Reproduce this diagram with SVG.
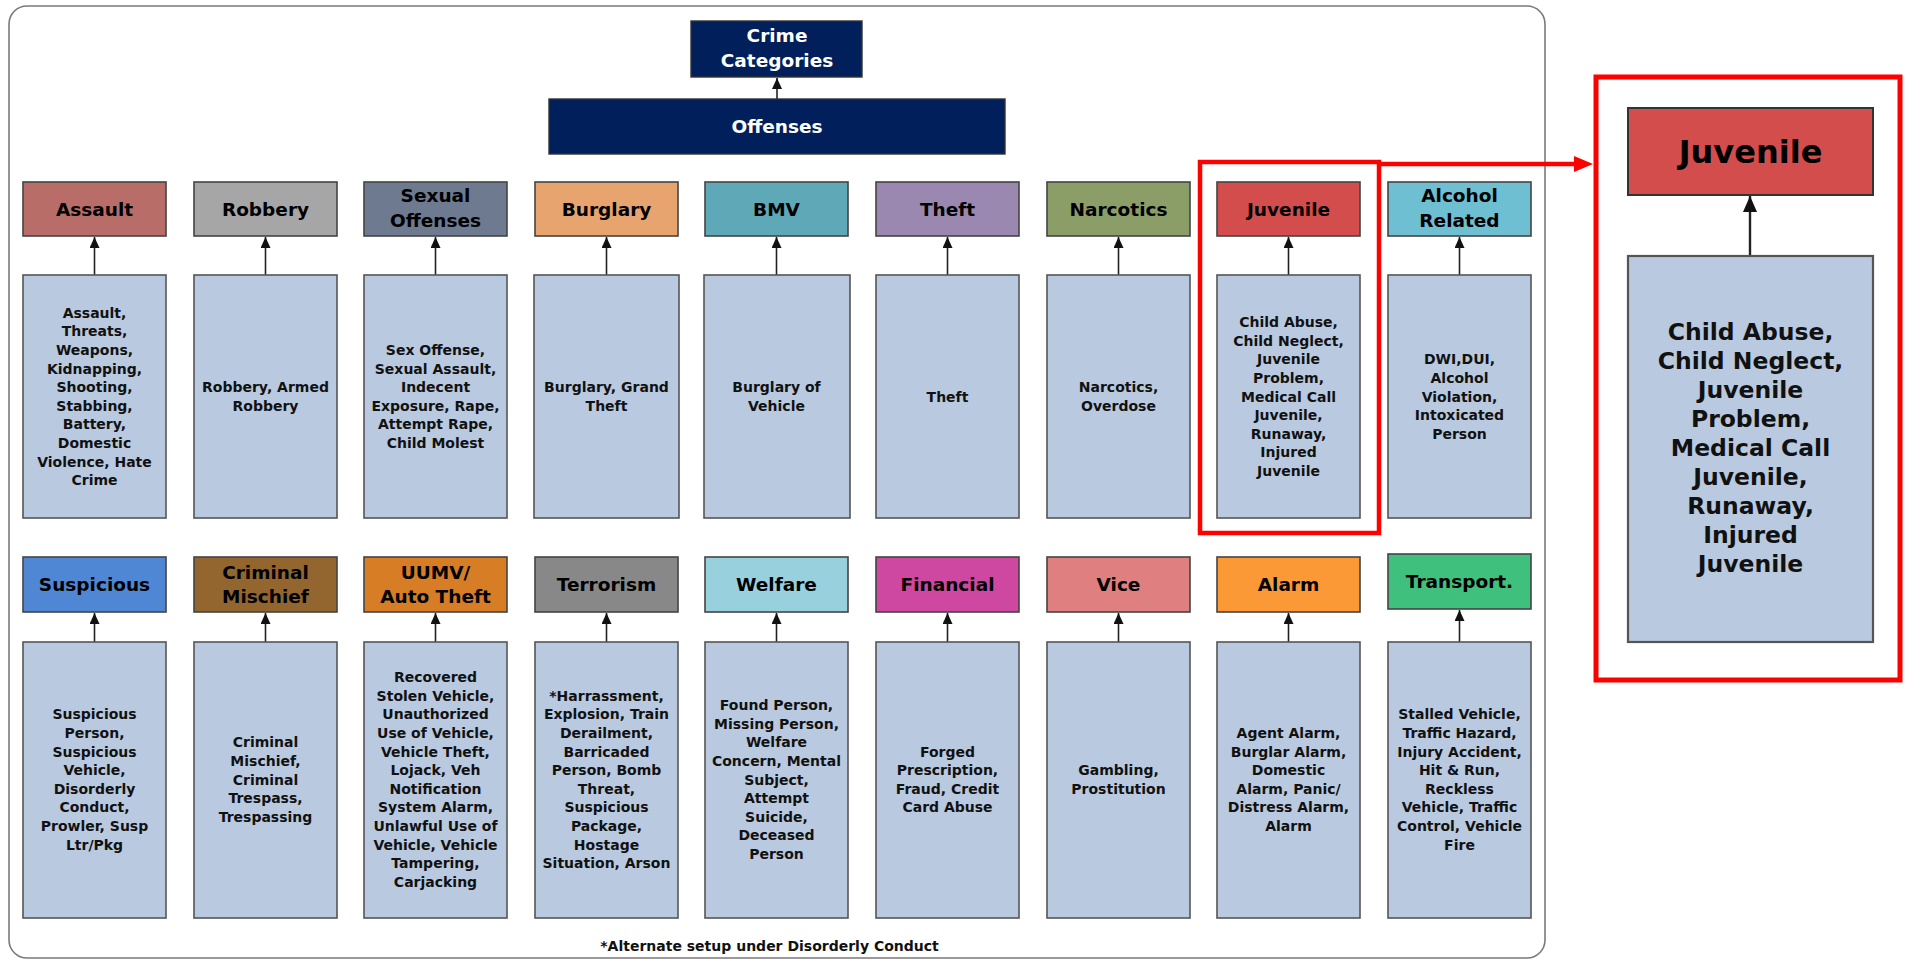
<svg xmlns="http://www.w3.org/2000/svg" width="1906" height="962" viewBox="0 0 1906 962">
<defs>
<marker id="ah" markerUnits="userSpaceOnUse" markerWidth="11" markerHeight="10" refX="11" refY="5" orient="auto"><path d="M0,0 L11,5 L0,10 z" fill="#111"/></marker>
<marker id="ahb" markerUnits="userSpaceOnUse" markerWidth="16" markerHeight="14" refX="16" refY="7" orient="auto"><path d="M0,0 L16,7 L0,14 z" fill="#111"/></marker>
</defs>
<style>
.hd{stroke:#444;stroke-width:1.6}
.dt{fill:#b9cae0;stroke:#555;stroke-width:1.6}
.nv{fill:#001f5b;stroke:#333;stroke-width:1.4}
.ht{font-family:"DejaVu Sans",sans-serif;font-weight:bold;font-size:18.5px;fill:#000;text-anchor:middle}
.wt{font-family:"DejaVu Sans",sans-serif;font-weight:bold;font-size:18.5px;fill:#fff;text-anchor:middle}
.tx{font-family:"DejaVu Sans",sans-serif;font-weight:bold;font-size:14px;fill:#111;text-anchor:middle}
.cn{stroke:#222;stroke-width:1.6;fill:none;marker-end:url(#ah)}
</style>
<rect x="9" y="6" width="1536" height="952" rx="18" fill="#fff" stroke="#7a7a7a" stroke-width="1.6"/>

<g id="connectors">
<line class="cn" x1="777" y1="99" x2="777" y2="78"/>
<line class="cn" x1="94.5" y1="275" x2="94.5" y2="237"/>
<line class="cn" x1="265.5" y1="275" x2="265.5" y2="237"/>
<line class="cn" x1="435.5" y1="275" x2="435.5" y2="237"/>
<line class="cn" x1="606.5" y1="275" x2="606.5" y2="237"/>
<line class="cn" x1="776.5" y1="275" x2="776.5" y2="237"/>
<line class="cn" x1="947.5" y1="275" x2="947.5" y2="237"/>
<line class="cn" x1="1118.5" y1="275" x2="1118.5" y2="237"/>
<line class="cn" x1="1288.5" y1="275" x2="1288.5" y2="237"/>
<line class="cn" x1="1459.5" y1="275" x2="1459.5" y2="237"/>
<line class="cn" x1="94.5" y1="642" x2="94.5" y2="613"/>
<line class="cn" x1="265.5" y1="642" x2="265.5" y2="613"/>
<line class="cn" x1="435.5" y1="642" x2="435.5" y2="613"/>
<line class="cn" x1="606.5" y1="642" x2="606.5" y2="613"/>
<line class="cn" x1="776.5" y1="642" x2="776.5" y2="613"/>
<line class="cn" x1="947.5" y1="642" x2="947.5" y2="613"/>
<line class="cn" x1="1118.5" y1="642" x2="1118.5" y2="613"/>
<line class="cn" x1="1288.5" y1="642" x2="1288.5" y2="613"/>
<line class="cn" x1="1459.5" y1="642" x2="1459.5" y2="610"/>
<line x1="1750" y1="256" x2="1750" y2="196" stroke="#222" stroke-width="2.4" marker-end="url(#ahb)"/>
</g>

<g id="crime-categories"><rect class="nv" x="691" y="21" width="171" height="56"/><text class="wt" x="777" y="41.5">Crime</text><text class="wt" x="777" y="66.5">Categories</text></g>
<g id="offenses"><rect class="nv" x="549" y="99" width="456" height="55"/><text class="wt" x="777" y="133">Offenses</text></g>

<!-- Row 1 headers -->
<g id="assault"><rect class="hd" x="23" y="182" width="143" height="54" fill="#b86d68"/><text class="ht" x="94.5" y="215.5">Assault</text></g>
<g id="robbery"><rect class="hd" x="194" y="182" width="143" height="54" fill="#a6a6a6"/><text class="ht" x="265.5" y="215.5">Robbery</text></g>
<g id="sexual-offenses"><rect class="hd" x="364" y="182" width="143" height="54" fill="#6e7a8f"/><text class="ht" x="435.5" y="202">Sexual</text><text class="ht" x="435.5" y="226.5">Offenses</text></g>
<g id="burglary"><rect class="hd" x="535" y="182" width="143" height="54" fill="#e8a46e"/><text class="ht" x="606.5" y="215.5">Burglary</text></g>
<g id="bmv"><rect class="hd" x="705" y="182" width="143" height="54" fill="#5fa8b8"/><text class="ht" x="776.5" y="215.5">BMV</text></g>
<g id="theft"><rect class="hd" x="876" y="182" width="143" height="54" fill="#9a88b0"/><text class="ht" x="947.5" y="215.5">Theft</text></g>
<g id="narcotics"><rect class="hd" x="1047" y="182" width="143" height="54" fill="#8c9e68"/><text class="ht" x="1118.5" y="215.5">Narcotics</text></g>
<g id="juvenile"><rect class="hd" x="1217" y="182" width="143" height="54" fill="#d44d4d"/><text class="ht" x="1288.5" y="215.5">Juvenile</text></g>
<g id="alcohol-related"><rect class="hd" x="1388" y="182" width="143" height="54" fill="#6dbfd1"/><text class="ht" x="1459.5" y="202">Alcohol</text><text class="ht" x="1459.5" y="226.5">Related</text></g>

<!-- Row 1 details -->
<g id="assault-detail"><rect class="dt" x="23" y="275" width="143" height="243"/><text class="tx" y="317.8"><tspan x="94.5">Assault,</tspan><tspan x="94.5" dy="18.6">Threats,</tspan><tspan x="94.5" dy="18.6">Weapons,</tspan><tspan x="94.5" dy="18.6">Kidnapping,</tspan><tspan x="94.5" dy="18.6">Shooting,</tspan><tspan x="94.5" dy="18.6">Stabbing,</tspan><tspan x="94.5" dy="18.6">Battery,</tspan><tspan x="94.5" dy="18.6">Domestic</tspan><tspan x="94.5" dy="18.6">Violence, Hate</tspan><tspan x="94.5" dy="18.6">Crime</tspan></text></g>
<g id="robbery-detail"><rect class="dt" x="194" y="275" width="143" height="243"/><text class="tx" y="392.2"><tspan x="265.5">Robbery, Armed</tspan><tspan x="265.5" dy="18.6">Robbery</tspan></text></g>
<g id="sexual-detail"><rect class="dt" x="364" y="275" width="143" height="243"/><text class="tx" y="355"><tspan x="435.5">Sex Offense,</tspan><tspan x="435.5" dy="18.6">Sexual Assault,</tspan><tspan x="435.5" dy="18.6">Indecent</tspan><tspan x="435.5" dy="18.6">Exposure, Rape,</tspan><tspan x="435.5" dy="18.6">Attempt Rape,</tspan><tspan x="435.5" dy="18.6">Child Molest</tspan></text></g>
<g id="burglary-detail"><rect class="dt" x="534" y="275" width="145" height="243"/><text class="tx" y="392.2"><tspan x="606.5">Burglary, Grand</tspan><tspan x="606.5" dy="18.6">Theft</tspan></text></g>
<g id="bmv-detail"><rect class="dt" x="704" y="275" width="146" height="243"/><text class="tx" y="392.2"><tspan x="776.5">Burglary of</tspan><tspan x="776.5" dy="18.6">Vehicle</tspan></text></g>
<g id="theft-detail"><rect class="dt" x="876" y="275" width="143" height="243"/><text class="tx" x="947.5" y="401.5">Theft</text></g>
<g id="narcotics-detail"><rect class="dt" x="1047" y="275" width="143" height="243"/><text class="tx" y="392.2"><tspan x="1118.5">Narcotics,</tspan><tspan x="1118.5" dy="18.6">Overdose</tspan></text></g>
<g id="juvenile-detail"><rect class="dt" x="1217" y="275" width="143" height="243"/><text class="tx" y="327.1"><tspan x="1288.5">Child Abuse,</tspan><tspan x="1288.5" dy="18.6">Child Neglect,</tspan><tspan x="1288.5" dy="18.6">Juvenile</tspan><tspan x="1288.5" dy="18.6">Problem,</tspan><tspan x="1288.5" dy="18.6">Medical Call</tspan><tspan x="1288.5" dy="18.6">Juvenile,</tspan><tspan x="1288.5" dy="18.6">Runaway,</tspan><tspan x="1288.5" dy="18.6">Injured</tspan><tspan x="1288.5" dy="18.6">Juvenile</tspan></text></g>
<g id="alcohol-detail"><rect class="dt" x="1388" y="275" width="143" height="243"/><text class="tx" y="364.3"><tspan x="1459.5">DWI,DUI,</tspan><tspan x="1459.5" dy="18.6">Alcohol</tspan><tspan x="1459.5" dy="18.6">Violation,</tspan><tspan x="1459.5" dy="18.6">Intoxicated</tspan><tspan x="1459.5" dy="18.6">Person</tspan></text></g>

<!-- Row 2 headers -->
<g id="suspicious"><rect class="hd" x="23" y="557" width="143" height="55" fill="#4f87d4"/><text class="ht" x="94.5" y="591">Suspicious</text></g>
<g id="criminal-mischief"><rect class="hd" x="194" y="557" width="143" height="55" fill="#93652f"/><text class="ht" x="265.5" y="578.5">Criminal</text><text class="ht" x="265.5" y="603">Mischief</text></g>
<g id="uumv"><rect class="hd" x="364" y="557" width="143" height="55" fill="#d67d26"/><text class="ht" x="435.5" y="578.5">UUMV/</text><text class="ht" x="435.5" y="603">Auto Theft</text></g>
<g id="terrorism"><rect class="hd" x="535" y="557" width="143" height="55" fill="#888888"/><text class="ht" x="606.5" y="591">Terrorism</text></g>
<g id="welfare"><rect class="hd" x="705" y="557" width="143" height="55" fill="#98d0de"/><text class="ht" x="776.5" y="591">Welfare</text></g>
<g id="financial"><rect class="hd" x="876" y="557" width="143" height="55" fill="#ce47a0"/><text class="ht" x="947.5" y="591">Financial</text></g>
<g id="vice"><rect class="hd" x="1047" y="557" width="143" height="55" fill="#df7f7f"/><text class="ht" x="1118.5" y="591">Vice</text></g>
<g id="alarm"><rect class="hd" x="1217" y="557" width="143" height="55" fill="#fb9937"/><text class="ht" x="1288.5" y="591">Alarm</text></g>
<g id="transport"><rect class="hd" x="1388" y="554" width="143" height="55" fill="#3fc07c"/><text class="ht" x="1459.5" y="588">Transport.</text></g>

<!-- Row 2 details -->
<g id="suspicious-detail"><rect class="dt" x="23" y="642" width="143" height="276"/><text class="tx" y="719.4"><tspan x="94.5">Suspicious</tspan><tspan x="94.5" dy="18.6">Person,</tspan><tspan x="94.5" dy="18.6">Suspicious</tspan><tspan x="94.5" dy="18.6">Vehicle,</tspan><tspan x="94.5" dy="18.6">Disorderly</tspan><tspan x="94.5" dy="18.6">Conduct,</tspan><tspan x="94.5" dy="18.6">Prowler, Susp</tspan><tspan x="94.5" dy="18.6">Ltr/Pkg</tspan></text></g>
<g id="criminal-detail"><rect class="dt" x="194" y="642" width="143" height="276"/><text class="tx" y="747.3"><tspan x="265.5">Criminal</tspan><tspan x="265.5" dy="18.6">Mischief,</tspan><tspan x="265.5" dy="18.6">Criminal</tspan><tspan x="265.5" dy="18.6">Trespass,</tspan><tspan x="265.5" dy="18.6">Trespassing</tspan></text></g>
<g id="uumv-detail"><rect class="dt" x="364" y="642" width="143" height="276"/><text class="tx" y="682.2"><tspan x="435.5">Recovered</tspan><tspan x="435.5" dy="18.6">Stolen Vehicle,</tspan><tspan x="435.5" dy="18.6">Unauthorized</tspan><tspan x="435.5" dy="18.6">Use of Vehicle,</tspan><tspan x="435.5" dy="18.6">Vehicle Theft,</tspan><tspan x="435.5" dy="18.6">Lojack, Veh</tspan><tspan x="435.5" dy="18.6">Notification</tspan><tspan x="435.5" dy="18.6">System Alarm,</tspan><tspan x="435.5" dy="18.6">Unlawful Use of</tspan><tspan x="435.5" dy="18.6">Vehicle, Vehicle</tspan><tspan x="435.5" dy="18.6">Tampering,</tspan><tspan x="435.5" dy="18.6">Carjacking</tspan></text></g>
<g id="terrorism-detail"><rect class="dt" x="535" y="642" width="143" height="276"/><text class="tx" y="700.8"><tspan x="606.5">*Harrassment,</tspan><tspan x="606.5" dy="18.6">Explosion, Train</tspan><tspan x="606.5" dy="18.6">Derailment,</tspan><tspan x="606.5" dy="18.6">Barricaded</tspan><tspan x="606.5" dy="18.6">Person, Bomb</tspan><tspan x="606.5" dy="18.6">Threat,</tspan><tspan x="606.5" dy="18.6">Suspicious</tspan><tspan x="606.5" dy="18.6">Package,</tspan><tspan x="606.5" dy="18.6">Hostage</tspan><tspan x="606.5" dy="18.6">Situation, Arson</tspan></text></g>
<g id="welfare-detail"><rect class="dt" x="705" y="642" width="143" height="276"/><text class="tx" y="710.1"><tspan x="776.5">Found Person,</tspan><tspan x="776.5" dy="18.6">Missing Person,</tspan><tspan x="776.5" dy="18.6">Welfare</tspan><tspan x="776.5" dy="18.6">Concern, Mental</tspan><tspan x="776.5" dy="18.6">Subject,</tspan><tspan x="776.5" dy="18.6">Attempt</tspan><tspan x="776.5" dy="18.6">Suicide,</tspan><tspan x="776.5" dy="18.6">Deceased</tspan><tspan x="776.5" dy="18.6">Person</tspan></text></g>
<g id="financial-detail"><rect class="dt" x="876" y="642" width="143" height="276"/><text class="tx" y="756.6"><tspan x="947.5">Forged</tspan><tspan x="947.5" dy="18.6">Prescription,</tspan><tspan x="947.5" dy="18.6">Fraud, Credit</tspan><tspan x="947.5" dy="18.6">Card Abuse</tspan></text></g>
<g id="vice-detail"><rect class="dt" x="1047" y="642" width="143" height="276"/><text class="tx" y="775.2"><tspan x="1118.5">Gambling,</tspan><tspan x="1118.5" dy="18.6">Prostitution</tspan></text></g>
<g id="alarm-detail"><rect class="dt" x="1217" y="642" width="143" height="276"/><text class="tx" y="738"><tspan x="1288.5">Agent Alarm,</tspan><tspan x="1288.5" dy="18.6">Burglar Alarm,</tspan><tspan x="1288.5" dy="18.6">Domestic</tspan><tspan x="1288.5" dy="18.6">Alarm, Panic/</tspan><tspan x="1288.5" dy="18.6">Distress Alarm,</tspan><tspan x="1288.5" dy="18.6">Alarm</tspan></text></g>
<g id="transport-detail"><rect class="dt" x="1388" y="642" width="143" height="276"/><text class="tx" y="719.4"><tspan x="1459.5">Stalled Vehicle,</tspan><tspan x="1459.5" dy="18.6">Traffic Hazard,</tspan><tspan x="1459.5" dy="18.6">Injury Accident,</tspan><tspan x="1459.5" dy="18.6">Hit &amp; Run,</tspan><tspan x="1459.5" dy="18.6">Reckless</tspan><tspan x="1459.5" dy="18.6">Vehicle, Traffic</tspan><tspan x="1459.5" dy="18.6">Control, Vehicle</tspan><tspan x="1459.5" dy="18.6">Fire</tspan></text></g>

<text class="tx" x="769.5" y="951">*Alternate setup under Disorderly Conduct</text>

<!-- Highlight -->
<g id="highlight">
<rect x="1200" y="162" width="179" height="371" fill="none" stroke="#ff0000" stroke-width="4.5"/>
<line x1="1377" y1="164" x2="1577" y2="164" stroke="#ff0000" stroke-width="4.5"/>
<polygon points="1574,156 1593,164 1574,172" fill="#ff0000"/>
<rect x="1596" y="77" width="304" height="603" fill="none" stroke="#ff0000" stroke-width="5"/>
</g>
<g id="juvenile-zoom"><rect x="1628" y="108" width="245" height="87" fill="#d44d4d" stroke="#333" stroke-width="2"/><text x="1750.5" y="163" style="font-family:'DejaVu Sans',sans-serif;font-weight:bold;font-size:32px;text-anchor:middle;fill:#000">Juvenile</text></g>
<g id="juvenile-zoom-detail"><rect x="1628" y="256" width="245" height="386" fill="#b9cae0" stroke="#555" stroke-width="2.2"/><text y="339.5" style="font-family:'DejaVu Sans',sans-serif;font-weight:bold;font-size:23.5px;text-anchor:middle;fill:#111"><tspan x="1750.5">Child Abuse,</tspan><tspan x="1750.5" dy="29.1">Child Neglect,</tspan><tspan x="1750.5" dy="29.1">Juvenile</tspan><tspan x="1750.5" dy="29.1">Problem,</tspan><tspan x="1750.5" dy="29.1">Medical Call</tspan><tspan x="1750.5" dy="29.1">Juvenile,</tspan><tspan x="1750.5" dy="29.1">Runaway,</tspan><tspan x="1750.5" dy="29.1">Injured</tspan><tspan x="1750.5" dy="29.1">Juvenile</tspan></text></g>
</svg>
